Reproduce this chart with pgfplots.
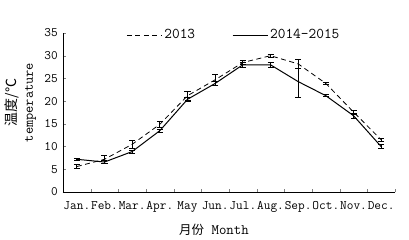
\documentclass[border=0pt]{standalone}
\usepackage{fontspec}
\newfontfamily\cjk{Noto Sans CJK SC}
\usepackage{pgfplots}
\usepackage{pgfplotstable}
\pgfplotsset{compat=1.18}

\pgfplotstableread{
x y ep em
0 5.6 0.4 0.4
1 7.2 0.8 0.8
2 10.5 0.8 0.8
3 14.9 0.7 0.7
4 21.2 1.0 1.0
5 24.7 1.2 1.2
6 28.5 0.5 0.5
7 30.0 0.3 0.3
8 28.2 0.9 0.9
9 23.9 0.3 0.3
10 17.6 0.4 0.4
11 11.5 0.4 0.4
}\dataA

\pgfplotstableread{
x y ep em
0 7.2 0.2 0.2
1 6.6 0.4 0.4
2 8.9 0.3 0.3
3 13.5 0.4 0.4
4 20.4 0.5 0.5
5 23.9 0.5 0.5
6 28.0 0.5 0.5
7 28.0 0.5 0.5
8 24.3 4.8 3.4
9 21.2 0.2 0.2
10 16.8 0.5 0.5
11 10.0 0.5 0.5
}\dataB

\begin{document}
\begin{tikzpicture}
\begin{axis}[
  scale only axis,
  width=332bp, height=159bp,
  xmin=-0.5, xmax=11.5,
  ymin=0, ymax=35,
  axis x line=bottom, axis y line=left,
  axis line style={-, line width=0.8pt},
  xtick={0,...,11},
  xticklabels={Jan.,Feb.,Mar.,Apr.,May,Jun.,Jul.,Aug.,Sep.,Oct.,Nov.,Dec.},
  major x tick style={draw=none},
  minor xtick={0.5,1.5,...,11.5},
  minor tick length=3bp,
  major tick length=3bp,
  tick align=inside,
  ytick={0,5,...,35},
  /pgf/number format/assume math mode=true,
  xticklabel style={font=\ttfamily\fontsize{13}{14}\selectfont, inner sep=0bp, yshift=-9bp},
  yticklabel style={font=\ttfamily\fontsize{13}{14}\selectfont, inner sep=0bp, xshift=-5bp},
  xlabel={{\cjk\fontsize{12.5}{14}\selectfont 月份} Month},
  xlabel style={font=\ttfamily\fontsize{14.5}{15}\selectfont, xshift=-15bp, yshift=-8bp},
  ylabel={{\cjk 温度/℃}\\temperature},
  ylabel style={font=\ttfamily\fontsize{14}{16}\selectfont, align=center, xshift=10bp, yshift=5bp},
  legend style={at={(0.515,0.987)}, anchor=center, draw=none, fill=none,
    legend columns=2, font=\ttfamily\fontsize{15}{16}\selectfont,
    /tikz/every even column/.append style={column sep=35bp},
    inner sep=0pt},
  legend cell align=left,
  legend image code/.code={\draw[#1] (0bp,0bp) -- (35bp,0bp);},
  clip=false,
]
\addplot[black, line width=0.8pt, dash pattern=on 5bp off 3.5bp,
  error bars/.cd, y dir=both, y explicit,
  error bar style={solid, line width=0.7pt},
  error mark options={rotate=90, mark size=3bp, solid, line width=0.7pt}]
  table[x=x, y=y, y error plus=ep, y error minus=em] {\dataA};
\addlegendentry{2013}
\addplot[black, line width=1pt,
  error bars/.cd, y dir=both, y explicit,
  error bar style={line width=0.7pt},
  error mark options={rotate=90, mark size=3bp, line width=0.7pt}]
  table[x=x, y=y, y error plus=ep, y error minus=em] {\dataB};
\addlegendentry{2014-2015}
\end{axis}
\pgfresetboundingbox
\path[use as bounding box] (current axis.south west) ++(-63bp,-48bp) rectangle ++(409bp,240bp);
\end{tikzpicture}
\end{document}
